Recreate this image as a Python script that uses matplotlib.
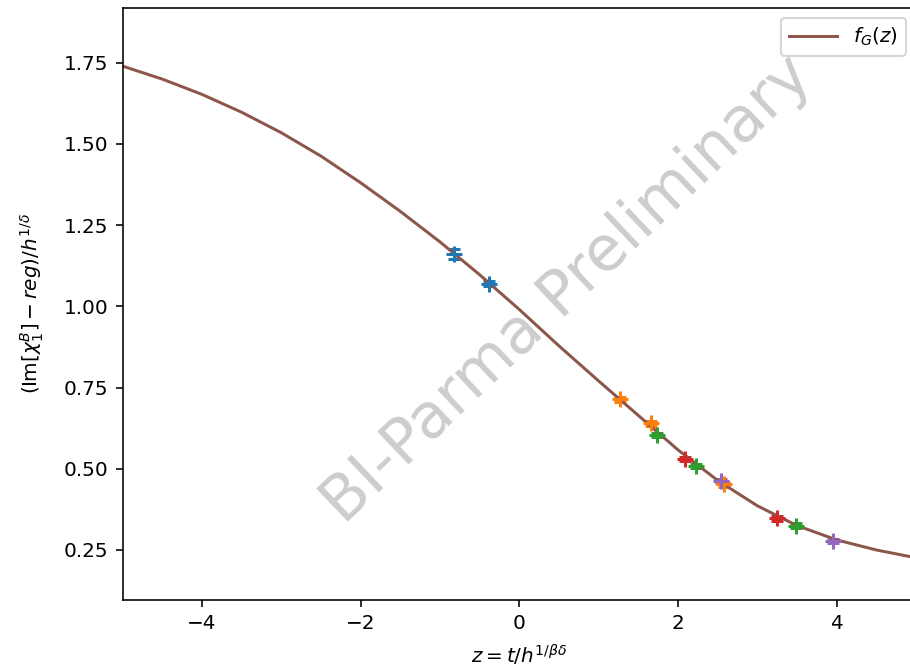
import matplotlib
matplotlib.use("Agg")
import matplotlib.pyplot as plt

# Scaling function curve
curve_z = [-5.0, -4.5, -4.0, -3.5, -3.0, -2.5, -2.0, -1.5, -1.0, -0.5, 0.0,
           0.5, 1.0, 1.5, 2.0, 2.5, 3.0, 3.5, 4.0, 4.5, 5.0]
curve_y = [1.739, 1.699, 1.652, 1.597, 1.534, 1.462, 1.380, 1.292, 1.198, 1.097, 0.990,
           0.878, 0.770, 0.664, 0.558, 0.464, 0.386, 0.325, 0.281, 0.250, 0.226]

# Data sets
z_blue = [-0.82, -0.38]
y_blue = [1.161, 1.070]
e_blue = [0.015, 0.008]

z_orange = [1.27, 1.66, 2.58]
y_orange = [0.714, 0.640, 0.452]
e_orange = [0.008, 0.008, 0.007]

z_green = [1.73, 2.23, 3.49]
y_green = [0.604, 0.508, 0.325]
e_green = [0.007, 0.007, 0.007]

z_red = [2.09, 3.25]
y_red = [0.530, 0.347]
e_red = [0.007, 0.007]

z_purple = [2.54, 3.96]
y_purple = [0.462, 0.278]
e_purple = [0.007, 0.007]

dpi = 144
fig = plt.figure(figsize=(910 / dpi, 669 / dpi), dpi=dpi)
ax = fig.add_axes([0.1348, 0.1031, 0.8718, 0.885])

sets = [(z_blue, y_blue, e_blue), (z_orange, y_orange, e_orange),
        (z_green, y_green, e_green), (z_red, y_red, e_red),
        (z_purple, y_purple, e_purple)]
for i, (zz, yy, ee) in enumerate(sets):
    ax.errorbar(zz, yy, yerr=ee, fmt='+', color=f'C{i}', markersize=8,
                markeredgewidth=1.5, elinewidth=1.5, capsize=3)

ax.plot(curve_z, curve_y, color='C5', lw=1.5, label=r'$f_G(z)$')

ax.set_xlim(-5, 5)
ax.set_ylim(0.096, 1.918)
ax.set_xticks([-4, -2, 0, 2, 4])
ax.set_yticks([0.25, 0.5, 0.75, 1.0, 1.25, 1.5, 1.75])
ax.set_xlabel(r'$z = t/h^{1/\beta\delta}$', labelpad=5)
ax.set_ylabel(r'$(\mathrm{Im}[\chi_1^B] - reg)/h^{1/\delta}$', labelpad=9)
ax.legend(loc='upper right', handlelength=2.4)

fig.text(0.624, 0.5665, 'BI-Parma Preliminary', fontsize=31, color='#cdcdcd',
         rotation=43.5, ha='center', va='center', rotation_mode='anchor')

fig.savefig('out.png', dpi=dpi)
